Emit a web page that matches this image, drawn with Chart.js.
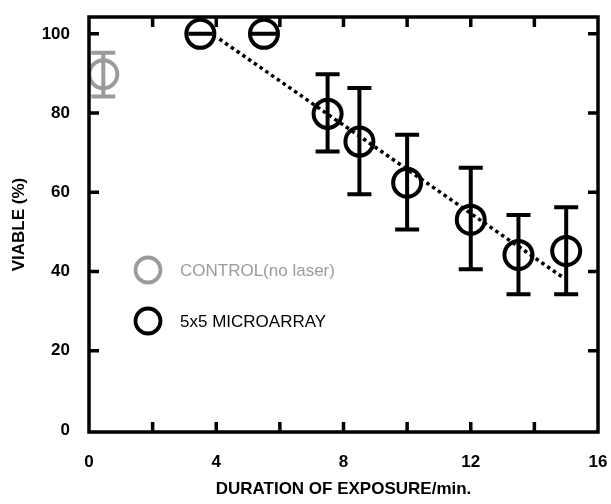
<!DOCTYPE html>
<html>
<head>
<meta charset="utf-8">
<script src="https://cdn.jsdelivr.net/npm/chart.js@4"></script>
<style>
  html, body { margin: 0; padding: 0; background: #fff; }
  #wrap { width: 611px; height: 504px; }
</style>
</head>
<body>
<div id="wrap"><canvas id="chart" width="611" height="504"></canvas></div>
<script>
// control point (no laser)
const controlX = [0.45];
const controlY = [89.8];
const controlLow = [84.2];
const controlHigh = [95.2];

// 5x5 microarray points
const arrayX = [3.5, 5.5, 7.5, 8.5, 10, 12, 13.5, 15];
const arrayY = [100, 100, 79.8, 72.8, 62.4, 53.1, 44.2, 45.2];
const arrayLow = [100, 100, 70.3, 59.5, 50.6, 40.6, 34.3, 34.3];
const arrayHigh = [100, 100, 89.8, 86.3, 74.5, 66.2, 54.3, 56.2];

// dotted trend line
const trendX = [4.1, 14.9];
const trendY = [98.7, 38.5];

const xTickLabels = ['0', '4', '8', '12', '16'];

const FONT = "'Liberation Sans', Arial, sans-serif";
const GREY = '#9b9b9b';

const toPoints = (xs, ys) => xs.map((x, i) => ({ x: x, y: ys[i] }));

// no extra room for overhanging tick labels
function fixPadding(s) {
  s.paddingLeft = 0;
  s.paddingRight = 0;
  s.paddingTop = 0;
  s.paddingBottom = 0;
}

// error bars, drawn through the scales
const errorBars = {
  id: 'errorBars',
  afterDatasetsDraw(chart) {
    const { ctx, scales: { x, y } } = chart;
    chart.data.datasets.forEach(ds => {
      if (!ds.errLow) return;
      ctx.save();
      ctx.strokeStyle = ds.borderColor;
      ctx.lineWidth = 4;
      ds.data.forEach((p, i) => {
        const px = x.getPixelForValue(p.x);
        const top = y.getPixelForValue(ds.errHigh[i]);
        const bot = y.getPixelForValue(ds.errLow[i]);
        ctx.beginPath();
        ctx.moveTo(px, top);
        ctx.lineTo(px, bot);
        ctx.moveTo(px - 12, top);
        ctx.lineTo(px + 12, top);
        ctx.moveTo(px - 12, bot);
        ctx.lineTo(px + 12, bot);
        ctx.stroke();
      });
      ctx.restore();
    });
  }
};

// box frame with inward ticks on all sides
const frame = {
  id: 'frame',
  afterDraw(chart) {
    const { ctx, chartArea: a, scales: { x, y } } = chart;
    ctx.save();
    ctx.strokeStyle = '#000';
    ctx.lineWidth = 3.5;
    ctx.strokeRect(a.left, a.top, a.right - a.left, a.bottom - a.top);
    ctx.beginPath();
    x.ticks.forEach(t => {
      if (t.value <= 0 || t.value >= 16) return;
      const px = x.getPixelForValue(t.value);
      ctx.moveTo(px, a.bottom);
      ctx.lineTo(px, a.bottom - 10);
      ctx.moveTo(px, a.top);
      ctx.lineTo(px, a.top + 10);
    });
    y.ticks.forEach(t => {
      if (t.value <= 0) return;
      const py = y.getPixelForValue(t.value);
      ctx.moveTo(a.left, py);
      ctx.lineTo(a.left + 10, py);
      ctx.moveTo(a.right, py);
      ctx.lineTo(a.right - 10, py);
    });
    ctx.stroke();
    ctx.restore();
  }
};

// legend inside the plot
const insideLegend = {
  id: 'insideLegend',
  afterDraw(chart) {
    const { ctx } = chart;
    const items = chart.data.datasets.filter(ds => ds.errLow);
    ctx.save();
    ctx.font = '17px ' + FONT;
    ctx.textBaseline = 'middle';
    items.forEach((ds, i) => {
      const cy = 270 + i * 51;
      ctx.strokeStyle = ds.borderColor;
      ctx.lineWidth = 3.8;
      ctx.beginPath();
      ctx.arc(148, cy, 12.5, 0, Math.PI * 2);
      ctx.stroke();
      ctx.fillStyle = ds.borderColor;
      ctx.fillText(ds.label, 180, cy + 1);
    });
    ctx.restore();
  }
};

new Chart(document.getElementById('chart'), {
  type: 'scatter',
  data: {
    datasets: [
      {
        label: 'CONTROL(no laser)',
        data: toPoints(controlX, controlY),
        errLow: controlLow,
        errHigh: controlHigh,
        borderColor: GREY,
        backgroundColor: 'rgba(0,0,0,0)',
        pointRadius: 14,
        pointBorderWidth: 4
      },
      {
        label: '5x5 MICROARRAY',
        data: toPoints(arrayX, arrayY),
        errLow: arrayLow,
        errHigh: arrayHigh,
        borderColor: '#000',
        backgroundColor: 'rgba(0,0,0,0)',
        pointRadius: 14,
        pointBorderWidth: 4
      },
      {
        type: 'line',
        label: 'fit',
        data: toPoints(trendX, trendY),
        borderColor: '#000',
        borderWidth: 3.5,
        borderDash: [3.5, 3.5],
        pointRadius: 0,
        fill: false
      }
    ]
  },
  options: {
    responsive: false,
    animation: false,
    // big markers would otherwise push the plot edge in
    layout: { autoPadding: false, padding: { top: 17, right: 13, left: 0, bottom: 0 } },
    plugins: {
      legend: { display: false },
      tooltip: { enabled: false }
    },
    scales: {
      x: {
        type: 'linear',
        min: 0,
        max: 16,
        afterFit: s => { s.height = 72; fixPadding(s); },
        // tick marks are drawn by the frame plugin; tickLength only spaces the labels
        grid: { display: false, drawTicks: true, tickLength: 17 },
        border: { display: false },
        ticks: {
          stepSize: 2,
          autoSkip: false,
          maxRotation: 0,
          padding: 3,
          color: '#000',
          font: { family: FONT, size: 17, weight: 'bold' },
          callback: v => xTickLabels.includes(String(v)) ? String(v) : ''
        },
        title: {
          display: true,
          text: 'DURATION OF EXPOSURE/min.',
          color: '#000',
          font: { family: FONT, size: 17, weight: 'bold' },
          padding: { top: 0, bottom: 4 }
        }
      },
      y: {
        min: -0.5,
        max: 104.25,
        afterFit: s => { s.width = 89; fixPadding(s); },
        grid: { display: false, drawTicks: true, tickLength: 16 },
        border: { display: false },
        ticks: {
          stepSize: 20,
          includeBounds: false,
          padding: 3,
          color: '#000',
          font: { family: FONT, size: 17, weight: 'bold' }
        },
        title: {
          display: true,
          text: 'VIABLE (%)',
          color: '#000',
          font: { family: FONT, size: 17, weight: 'bold' },
          padding: { top: 9, bottom: 0 }
        }
      }
    }
  },
  plugins: [errorBars, frame, insideLegend]
});
</script>
</body>
</html>
